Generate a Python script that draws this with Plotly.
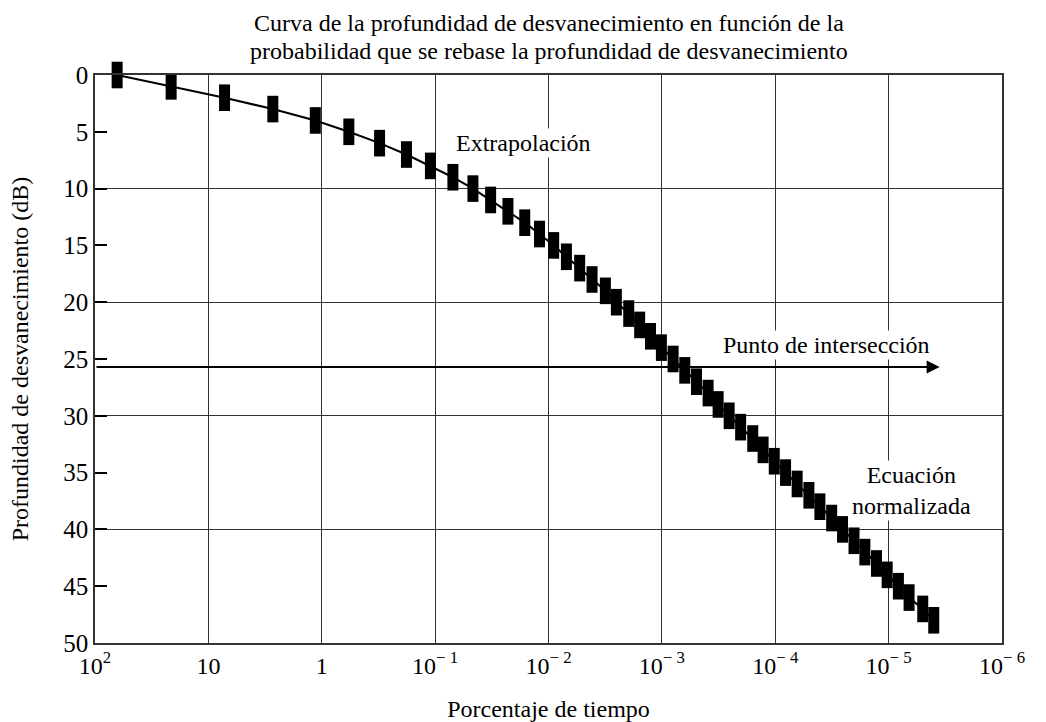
import plotly.graph_objects as go

# Fade depth (dB) and percentage of time the depth is exceeded
depth_db = list(range(0, 49))
percent_time = [
    63.8, 21.3, 7.2, 2.7, 1.14, 0.577, 0.309, 0.179, 0.110, 0.0697,
    0.0464, 0.0324, 0.0228, 0.0162, 0.0120, 0.0090, 0.00695, 0.00531, 0.00413, 0.00315,
    0.00252, 0.00196, 0.00157, 0.00126, 0.00101, 0.000796, 0.000628, 0.000495, 0.000391, 0.000319,
    0.000255, 0.000202, 0.000158, 0.000128, 0.000102, 0.0000811, 0.0000641, 0.0000505, 0.0000404, 0.0000318,
    0.0000255, 0.0000202, 0.0000162, 0.0000128, 0.0000103, 0.0000082, 0.0000066, 0.0000050, 0.0000040,
]

x_tickvals = [1e2, 1e1, 1, 1e-1, 1e-2, 1e-3, 1e-4, 1e-5, 1e-6]
x_ticktext = ["10<sup>2</sup>", "10", "1", "10<sup>\u2212 1</sup>", "10<sup>\u2212 2</sup>",
              "10<sup>\u2212 3</sup>", "10<sup>\u2212 4</sup>", "10<sup>\u2212 5</sup>", "10<sup>\u2212 6</sup>"]
y_tickvals = list(range(0, 51, 5))

title_lines = ["Curva de la profundidad de desvanecimiento en función de la",
               "probabilidad que se rebase la profundidad de desvanecimiento"]
x_title = "Porcentaje de tiempo"
y_title = "Profundidad de desvanecimiento (dB)"

# intersection arrow (depth level) and label positions (log10 of percentage, dB)
arrow_depth = 25.7
arrow_start_log = 2.0
arrow_end_log = -5.45
label_extrap = ("Extrapolación", -1.78, 6.0)
label_inter = ("Punto de intersección", -4.45, 23.8)
label_norm = ("Ecuación<br>normalizada", -5.2, 36.6)

FONT = "Liberation Serif, Times New Roman, serif"
GRID = "#333333"

fig = go.Figure()
fig.add_trace(go.Scatter(
    x=percent_time, y=depth_db, mode="lines+markers",
    line=dict(color="black", width=2),
    marker=dict(symbol="line-ns", size=19, color="black",
                line=dict(color="black", width=11)),
    cliponaxis=False,
    showlegend=False, hoverinfo="x+y",
))
# invisible trace to attach the 10 dB grid axis
fig.add_trace(go.Scatter(x=[1], y=[0], yaxis="y2", mode="markers",
                         marker=dict(opacity=0), showlegend=False, hoverinfo="skip"))

fig.update_layout(
    width=1046, height=722,
    margin=dict(l=95, r=44, t=75, b=79),
    paper_bgcolor="white", plot_bgcolor="white",
    font=dict(family=FONT, size=24, color="black"),
    xaxis=dict(
        type="log", range=[2, -6], automargin=False,
        tickvals=x_tickvals, ticktext=x_ticktext,
        showgrid=True, gridcolor=GRID, gridwidth=1,
        showline=True, linecolor=GRID, linewidth=1.5, mirror=True,
        ticks="", zeroline=False,
        tickfont=dict(size=24),
        title=dict(text=x_title, font=dict(size=24), standoff=24),
    ),
    yaxis=dict(
        range=[50, 0], tickvals=y_tickvals, automargin=False,
        showgrid=False, zeroline=False,
        showline=True, linecolor=GRID, linewidth=1.5, mirror=True,
        ticks="inside", ticklen=12, tickwidth=2, tickcolor="black",
        tickfont=dict(size=25),
        title=dict(text=y_title, font=dict(size=24), standoff=28),
    ),
    yaxis2=dict(
        overlaying="y", range=[50, 0], dtick=10, automargin=False,
        showgrid=True, gridcolor=GRID, gridwidth=1,
        showticklabels=False, ticks="", showline=False, zeroline=False,
    ),
)

ann = []
ann.append(dict(text=title_lines[0], xref="paper", yref="paper", x=0.5, y=1.0915,
                showarrow=False, font=dict(size=24), xanchor="center", yanchor="middle"))
ann.append(dict(text=title_lines[1], xref="paper", yref="paper", x=0.5, y=1.0423,
                showarrow=False, font=dict(size=24), xanchor="center", yanchor="middle"))
ann.append(dict(x=arrow_end_log, y=arrow_depth, ax=arrow_start_log, ay=arrow_depth,
                xref="x", yref="y", axref="x", ayref="y", text="",
                showarrow=True, arrowhead=2, arrowsize=1.3, arrowwidth=2, arrowcolor="black"))
for txt, lx, ly in (label_extrap, label_inter, label_norm):
    ann.append(dict(text=txt, x=lx, y=ly, xref="x", yref="y", showarrow=False,
                    bgcolor="white", font=dict(size=24), xanchor="center", yanchor="middle"))
fig.update_layout(annotations=ann)

fig.write_html("out.html")
